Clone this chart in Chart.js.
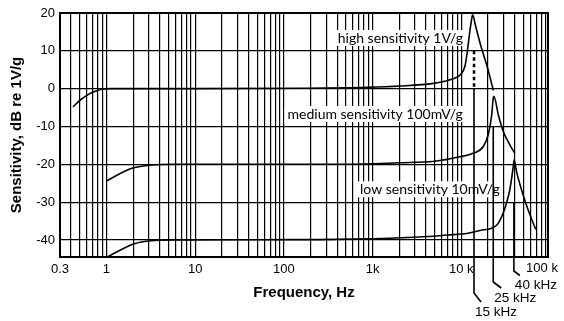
<!DOCTYPE html>
<html>
<head>
<meta charset="utf-8">
<script src="https://cdn.jsdelivr.net/npm/chart.js@4.4.1/dist/chart.umd.min.js"></script>
<style>
  html, body { margin: 0; padding: 0; background: #fff; }
  #wrap { width: 564px; height: 321px; }
</style>
</head>
<body>
<div id="wrap"><canvas id="chart"></canvas></div>
<script>
// Accelerometer sensitivity vs frequency, three sensitivity classes.
const HIGH_FREQ = [0.42, 0.52, 0.63, 0.75, 0.87, 1.13, 5, 150, 865, 2050, 4850, 6860, 8900, 9670, 11000, 11700, 12300, 12900, 13400, 14500, 16500, 19300, 23000];
const HIGH_DB   = [-4.8, -2.8, -1.5, -0.7, -0.2, 0, 0, 0.1, 0.35, 0.7, 1.4, 2.1, 3.0, 3.6, 6.0, 10.0, 14.0, 17.5, 19.5, 16.5, 11.5, 6.3, -0.5];

const MED_FREQ = [1.0, 1.9, 3.2, 5.8, 500, 2000, 5000, 9670, 13600, 17700, 20100, 22000, 22900, 23300, 26100, 29700, 35300, 40100];
const MED_DB   = [-24.4, -21.1, -20.2, -20.0, -20.0, -19.6, -19.2, -18.0, -17.1, -15.3, -12.2, -6.9, -2.5, -2.0, -6.9, -11.3, -14.9, -17.1];

const LOW_FREQ = [1.0, 2.06, 3.2, 5.8, 150, 865, 2050, 4850, 6860, 11500, 16200, 25000, 29500, 32500, 35000, 37000, 38500, 39400, 42000, 46000, 54000, 62000, 69000];
const LOW_DB   = [-44.6, -41.0, -40.2, -40.0, -39.9, -39.7, -39.4, -39.0, -38.7, -38.3, -37.5, -36.1, -33.0, -30.0, -27.0, -23.5, -20.5, -18.9, -22.0, -25.5, -30.7, -34.5, -37.2];

// axis ticks
const X_GRID = [];
for (const dec of [0.1, 1, 10, 100, 1000, 10000]) {
  for (let m = 1; m <= 9; m++) {
    const v = +(m * dec).toPrecision(3);
    if (v >= 0.3) X_GRID.push(v);
  }
}
const X_LABEL_VALUES = [0.3, 1, 10, 100, 1000, 10000];
const X_LABELS = ["0.3", "1", "10", "100", "1k", "10 k"];
const X_LAST_LABEL = "100 k";
const Y_TICKS = [-40, -30, -20, -10, 0, 10, 20];

// curve captions (right end freq, centre dB)
const CAPTIONS = ["high sensitivity 1V/g", "medium sensitivity 100mV/g", "low sensitivity 10mV/g"];
const CAPTION_FREQ = [10450, 10400, 27200];
const CAPTION_DB = [13.4, -6.7, -26.6];

// resonance call-outs
const CALLOUT_LABELS = ["15 kHz", "25 kHz", "40 kHz"];
const CALLOUT_FREQ = [13900, 22900, 39100];
const CALLOUT_TOP_DB = [0, -10, -30];

const toXY = (fs, ds) => fs.map((f, i) => ({ x: f, y: ds[i] }));

const SANS = "'Liberation Sans', Arial, sans-serif";
const LABEL_FONT = '14px Lato, "Open Sans", sans-serif';
const TICK_FONT = "13px " + SANS;

const frame = {
  id: "frame",
  beforeDatasetsDraw(chart) {
    const { ctx, scales: { x, y } } = chart;
    ctx.save();
    ctx.font = LABEL_FONT;
    ctx.textBaseline = "middle";
    ctx.textAlign = "right";
    CAPTIONS.forEach((t, i) => {
      const px = x.getPixelForValue(CAPTION_FREQ[i]);
      const py = y.getPixelForValue(CAPTION_DB[i]);
      const w = ctx.measureText(t).width;
      ctx.fillStyle = "#fff";
      ctx.fillRect(px - w - 3, py - 8, w + 6, 16);
      ctx.fillStyle = "#000";
      ctx.fillText(t, px, py + 0.5);
    });
    ctx.restore();
  },
  afterDatasetsDraw(chart) {
    const { ctx, chartArea: a, scales: { x, y } } = chart;
    ctx.save();
    ctx.strokeStyle = "#000";
    ctx.lineWidth = 2;
    ctx.strokeRect(a.left, a.top, a.right - a.left, a.bottom - a.top);

    // dashed marker under the high-sensitivity peak
    const xd = x.getPixelForValue(CALLOUT_FREQ[0]);
    ctx.setLineDash([3.5, 3]);
    ctx.lineWidth = 2.5;
    ctx.beginPath();
    ctx.moveTo(xd, y.getPixelForValue(10));
    ctx.lineTo(xd, y.getPixelForValue(0));
    ctx.stroke();
    ctx.setLineDash([]);

    // leader lines below the axis
    const drop = [36, 25, 14];
    const kink = [[7, 9], [8, 6], [6, 4.5]];
    ctx.lineWidth = 1.6;
    ctx.font = "13.5px " + SANS;
    ctx.fillStyle = "#000";
    ctx.textAlign = "left";
    ctx.textBaseline = "middle";
    CALLOUT_LABELS.forEach((t, i) => {
      const px = x.getPixelForValue(CALLOUT_FREQ[i]);
      const top = y.getPixelForValue(CALLOUT_TOP_DB[i]);
      const yb = a.bottom + drop[i];
      ctx.beginPath();
      ctx.moveTo(px, top);
      ctx.lineTo(px, yb);
      ctx.lineTo(px + kink[i][0], yb + kink[i][1]);
      ctx.stroke();
      ctx.fillText(t, px + 1, yb + kink[i][1] + 10);
    });

    // last decade label sits just inside the frame edge
    ctx.font = TICK_FONT;
    ctx.textAlign = "center";
    ctx.fillText(X_LAST_LABEL, a.right - 6, a.bottom + 11);
    ctx.restore();
  }
};

const lineStyle = {
  borderColor: "#000",
  borderWidth: 1.6,
  pointRadius: 0,
  fill: false,
  cubicInterpolationMode: "monotone",
};

new Chart(document.getElementById("chart"), {
  type: "line",
  data: {
    datasets: [
      { label: "high", data: toXY(HIGH_FREQ, HIGH_DB), ...lineStyle },
      { label: "medium", data: toXY(MED_FREQ, MED_DB), ...lineStyle },
      { label: "low", data: toXY(LOW_FREQ, LOW_DB), ...lineStyle },
    ],
  },
  options: {
    responsive: true,
    maintainAspectRatio: false,
    animation: false,
    devicePixelRatio: 1,
    layout: { padding: { left: 0, top: 13, right: 16, bottom: 0 } },
    plugins: { legend: { display: false }, tooltip: { enabled: false } },
    scales: {
      x: {
        type: "logarithmic",
        min: 0.3,
        max: 94800,
        afterBuildTicks: (s) => { s.ticks = X_GRID.map(v => ({ value: v })); },
        afterFit: (s) => { s.height = 64; },
        grid: { color: "#000", lineWidth: 1.2, drawTicks: false },
        border: { display: false },
        ticks: {
          autoSkip: false,
          maxRotation: 0,
          padding: 5,
          color: "#000",
          font: { family: SANS, size: 13 },
          callback: (v) => {
            const i = X_LABEL_VALUES.findIndex(t => Math.abs(t - v) / t < 1e-6);
            return i >= 0 ? X_LABELS[i] : "";
          },
        },
        title: {
          display: true,
          text: "Frequency, Hz",
          color: "#000",
          font: { family: SANS, size: 15, weight: "bold" },
          padding: { top: 0, bottom: 19 },
        },
      },
      y: {
        min: -44.5,
        max: 20,
        afterBuildTicks: (s) => { s.ticks = Y_TICKS.map(v => ({ value: v })); },
        afterFit: (s) => { s.width = 60; },
        grid: { color: "#000", lineWidth: 1.2, drawTicks: false },
        border: { display: false },
        ticks: {
          padding: 5,
          color: "#000",
          font: { family: SANS, size: 13 },
        },
        title: {
          display: true,
          text: "Sensitivity, dB re 1V/g",
          color: "#000",
          font: { family: SANS, size: 15, weight: "bold" },
          padding: { top: 8, bottom: 0 },
        },
      },
    },
  },
  plugins: [frame],
});
</script>
</body>
</html>
